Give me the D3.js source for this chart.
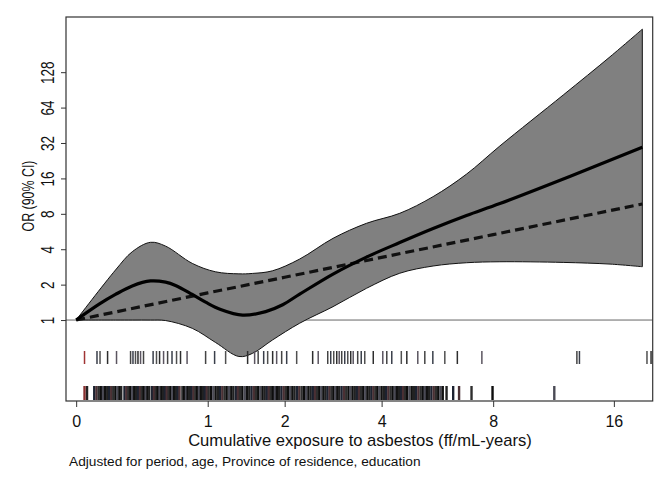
<!DOCTYPE html>
<html>
<head>
<meta charset="utf-8">
<script src="https://cdn.jsdelivr.net/npm/d3@7"></script>
<style>
  body { margin: 0; background: #fff; }
  text { font-family: "Liberation Sans", Arial, sans-serif; fill: #111; }
</style>
</head>
<body>
<svg id="chart"></svg>
<script>
// Spline fit with 90% CI (OR scale)
const ciExposure = [0, 0.23, 0.344, 0.48, 0.602, 0.844, 1.085, 1.357, 1.53, 1.812, 2.247, 2.871, 3.616, 4.502, 5.559, 6.822, 8.324, 12.02, 15.66, 18.75];
const ciUpper    = [1, 2.66, 3.81, 4.58, 4.25, 3.03, 2.57, 2.47, 2.49, 2.62, 3.30, 4.95, 6.64, 8.08, 11.2, 17.4, 30.2, 81.9, 173, 297];
const ciLower    = [1, 1.0, 1.0, 1.0, 0.99, 0.85, 0.644, 0.49, 0.52, 0.676, 0.94, 1.30, 1.86, 2.50, 2.88, 3.07, 3.13, 3.09, 2.99, 2.84];

const splineExposure = [0, 0.131, 0.23, 0.344, 0.48, 0.602, 0.688, 0.844, 0.978, 1.141, 1.404, 1.714, 1.969, 2.247,
  2.871, 3.616, 4.502, 5.559, 6.822, 8.324, 12.56, 18.75];
const splineOR       = [1, 1.37, 1.65, 1.95, 2.15, 2.10, 1.97, 1.65, 1.42, 1.23, 1.10, 1.18, 1.35, 1.66,
  2.46, 3.43, 4.56, 6.00, 7.74, 9.79, 16.8, 29.4];

// Linear (log-linear) fit, dashed
const linearExposure = [0, 1, 2, 4, 8, 18.75];
const linearOR       = [1, 1.70, 2.31, 3.41, 5.32, 9.70];

// Rug: cases (top row) and controls (bottom row)
const caseRug = [0.045, 0.116, 0.134, 0.18, 0.237, 0.332, 0.349, 0.367, 0.385, 0.404, 0.426, 0.50, 0.527, 0.552, 0.585,
  0.619, 0.657, 0.697, 0.733, 0.794, 0.978, 1.074, 1.198, 1.468, 1.561, 1.609, 1.686, 1.743, 1.816, 1.876, 1.953,
  2.032, 2.196, 2.477, 2.58, 2.764, 2.824, 2.885, 2.947, 2.999, 3.052, 3.117, 3.183, 3.249, 3.305, 3.408, 3.491,
  3.575, 3.785, 4.031, 4.138, 4.275, 4.547, 4.71, 5.05, 5.278, 5.549, 5.976, 6.452, 7.48, 12.99, 13.18, 19.24, 19.68];
const controlRug = [0.045, 0.059,
  0.10, 0.113, 0.126, 0.139, 0.152, 0.165, 0.178, 0.19, 0.203, 0.216, 0.23, 0.243, 0.256, 0.268,
  0.29, 0.303, 0.316, 0.33, 0.344, 0.358, 0.372, 0.386, 0.40, 0.414, 0.428, 0.442, 0.456, 0.47,
  0.492, 0.507, 0.522, 0.537, 0.552, 0.567, 0.582, 0.597, 0.612, 0.628, 0.644, 0.66, 0.676, 0.692, 0.708, 0.724,
  0.75, 0.767, 0.784, 0.80, 0.82, 0.838, 0.856, 0.874, 0.892, 0.91, 0.93, 0.95, 0.97, 0.99,
  1.01, 1.035, 1.06, 1.085, 1.11, 1.135, 1.16, 1.185, 1.21, 1.24, 1.265, 1.29, 1.32, 1.345, 1.37, 1.40, 1.43,
  1.46, 1.49, 1.52, 1.55, 1.58, 1.61, 1.64, 1.67, 1.70, 1.73, 1.76, 1.79, 1.82, 1.85, 1.88, 1.915, 1.95, 1.985,
  2.02, 2.055, 2.09, 2.125, 2.16, 2.2, 2.24, 2.28, 2.32, 2.36, 2.40, 2.44, 2.48, 2.52, 2.56, 2.60, 2.64, 2.68,
  2.72, 2.76, 2.80, 2.84, 2.88, 2.92, 2.96,
  3.00, 3.05, 3.10, 3.15, 3.20, 3.24, 3.29, 3.34, 3.39, 3.44, 3.49, 3.54, 3.59, 3.64, 3.69, 3.74, 3.79, 3.84, 3.89, 3.94,
  4.0, 4.06, 4.12, 4.18, 4.24, 4.30, 4.36, 4.42, 4.48, 4.54, 4.60, 4.66, 4.72, 4.79, 4.86, 4.93, 5.0, 5.07, 5.14,
  5.21, 5.28, 5.35, 5.42, 5.50, 5.58, 5.66, 5.74, 5.82, 5.90,
  6.04, 6.29, 6.52, 7.03, 7.97, 11.42];

const xTicks = [0, 1, 2, 4, 8, 16];
const yTicks = [1, 2, 4, 8, 16, 32, 64, 128];
const xTitle = "Cumulative exposure to asbestos (ff/mL-years)";
const yTitle = "OR (90% CI)";
const caption = "Adjusted for period, age, Province of residence, education";

const width = 671, height = 488;
const plot = { left: 66, top: 17, right: 652.7, bottom: 401 };

const svg = d3.select("#chart").attr("width", width).attr("height", height);

// x is on a log(1 + x) scale, y on a log2 scale
let x = d3.scaleSymlog().constant(1).domain([-0.055, 19.86]).range([plot.left, plot.right]);
let y = d3.scaleLog().base(2).domain([0.205, 377]).range([plot.bottom, plot.top]);
const smooth = d3.curveCatmullRom.alpha(0.5);

// Reference line at OR = 1 (under the band)
svg.append("line")
    .attr("x1", plot.left).attr("x2", plot.right)
    .attr("y1", y(1)).attr("y2", y(1))
    .style("stroke", "#666")
    .style("stroke-width", "1px");

// CI band
const band = ciExposure.map((e, i) => ({ e: e, lo: ciLower[i], hi: ciUpper[i] }));
svg.append("path")
    .datum(band)
    .attr("d", d3.area()
        .x(d => x(d.e))
        .y0(d => y(d.lo))
        .y1(d => y(d.hi))
        .curve(smooth))
    .style("fill", "#808080")
    .style("stroke", "#111")
    .style("stroke-width", "1px");

// Linear fit (dashed)
svg.append("path")
    .datum(linearExposure.map((e, i) => [e, linearOR[i]]))
    .attr("d", d3.line().x(d => x(d[0])).y(d => y(d[1])))
    .style("fill", "none")
    .style("stroke", "#111")
    .style("stroke-width", "3.2px")
    .style("stroke-dasharray", "9,5");

// Spline fit (solid)
svg.append("path")
    .datum(splineExposure.map((e, i) => [e, splineOR[i]]))
    .attr("d", d3.line().x(d => x(d[0])).y(d => y(d[1])).curve(smooth))
    .style("fill", "none")
    .style("stroke", "#000")
    .style("stroke-width", "3.2px");

// Rugs
const casePalette = ["#444", "#3a3f4a", "#505050", "#2e2e2e", "#5b5560"];
svg.selectAll(".caseRug")
    .data(caseRug)
    .join("line")
        .attr("class", "caseRug")
        .attr("x1", d => x(d)).attr("x2", d => x(d))
        .attr("y1", 351).attr("y2", 364)
        .style("stroke", (d, i) => i === 0 ? "#a03434" : casePalette[i % casePalette.length])
        .style("stroke-width", "1.5px");

const controlPalette = ["#111", "#222", "#1c2230", "#4a3034", "#2e2e2e", "#0d0d0d", "#4a4a55"];
svg.selectAll(".controlRug")
    .data(controlRug)
    .join("line")
        .attr("class", "controlRug")
        .attr("x1", d => x(d)).attr("x2", d => x(d))
        .attr("y1", 386).attr("y2", 400)
        .style("stroke", (d, i) => i === 0 ? "#8a3030" : controlPalette[i % controlPalette.length])
        .style("stroke-width", "2.4px");

// Frame
svg.append("rect")
    .attr("x", plot.left).attr("y", plot.top)
    .attr("width", plot.right - plot.left).attr("height", plot.bottom - plot.top)
    .style("fill", "none")
    .style("stroke", "#333")
    .style("stroke-width", "1.2px");

// X axis
let gx = svg.append("g")
    .attr("transform", "translate(0," + plot.bottom + ")")
    .call(d3.axisBottom(x).tickValues(xTicks).tickFormat(d3.format("d")).tickSize(6));
gx.select(".domain").remove();
gx.selectAll(".tick line").style("stroke", "#333");
gx.selectAll(".tick text")
    .attr("y", 26).attr("dy", null)
    .style("font-size", "16px")
    .style("fill", "#111");

// Y axis with rotated labels
let gy = svg.append("g")
    .attr("transform", "translate(" + plot.left + ",0)")
    .call(d3.axisLeft(y).tickValues(yTicks).tickFormat(d3.format("d")).tickSize(5));
gy.select(".domain").remove();
gy.selectAll(".tick line").style("stroke", "#333");
gy.selectAll(".tick text")
    .attr("x", null).attr("dy", null)
    .attr("text-anchor", "middle")
    .attr("transform", "translate(-12.5,0) rotate(-90) scale(0.75,1)")
    .style("font-size", "18px")
    .style("fill", "#111");

// Titles
svg.append("text")
    .attr("x", 360).attr("y", 446)
    .attr("text-anchor", "middle")
    .style("font-size", "16.6px")
    .text(xTitle);
svg.append("text")
    .attr("transform", "translate(34,196) rotate(-90) scale(0.73,1)")
    .attr("text-anchor", "middle")
    .style("font-size", "17px")
    .text(yTitle);
svg.append("text")
    .attr("x", 69).attr("y", 466)
    .style("font-size", "13.7px")
    .text(caption);
</script>
</body>
</html>
